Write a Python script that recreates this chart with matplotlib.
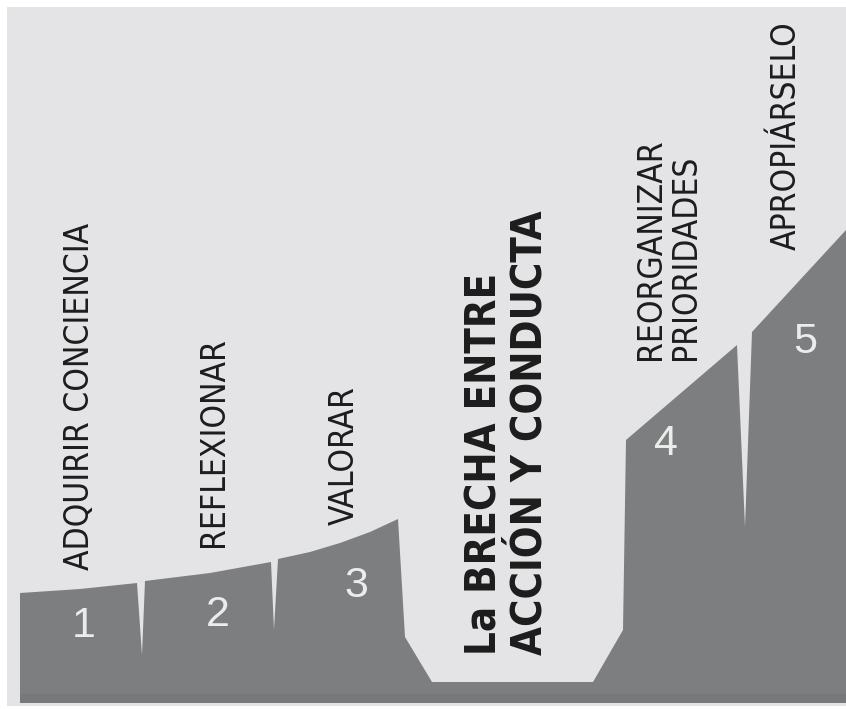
import matplotlib
matplotlib.use("Agg")
import matplotlib.pyplot as plt
from matplotlib import font_manager as fm

# terrain outline (pixel space of the original drawing, y grows downward)
profile_x = [20, 20, 80, 137, 142, 145, 210, 271, 274, 278, 310, 340, 370, 398,
             405, 432, 593, 623, 626, 737, 745, 752, 846, 846]
profile_y = [703, 593, 589, 583, 655, 581, 573, 562, 630, 559, 552, 543, 532, 519,
             637, 682, 682, 630, 440, 345, 527, 332, 230, 703]

steps = ["1", "2", "3", "4", "5"]
step_labels = ["ADQUIRIR CONCIENCIA", "REFLEXIONAR", "VALORAR",
               "REORGANIZAR\nPRIORIDADES", "APROPIÁRSELO"]
gap_label = "La BRECHA ENTRE\nACCIÓN Y CONDUCTA"

W, H = 846, 709
panel_col = "#e4e4e6"
dark_col = "#7d7e7f"
ink = "#1c1c1c"

# pick a condensed face if one is installed
entries = fm.fontManager.ttflist
names = {f.name for f in entries}
if "Liberation Sans Narrow" in names:
    cond_family, cond_stretch = "Liberation Sans Narrow", "normal"
elif any(f.name == "DejaVu Sans" and f.stretch == "condensed" for f in entries):
    cond_family, cond_stretch = "DejaVu Sans", "condensed"
else:
    cond_family, cond_stretch = "Liberation Sans", "normal"
narrow = [cond_family, "DejaVu Sans"]

fig = plt.figure(figsize=(W / 100, H / 100), dpi=100, facecolor="white")
ax = fig.add_axes([0, 0, 1, 1])
ax.set_xlim(0, W)
ax.set_ylim(H, 0)
ax.axis("off")
renderer = fig.canvas.get_renderer()


def fit_size(txt, length, **kw):
    # font size giving the wanted run length (px) for vertical text
    t = ax.text(0, 0, txt, rotation=90, fontsize=20, family=narrow,
                fontstretch=cond_stretch, **kw)
    h = t.get_window_extent(renderer=renderer).height
    t.remove()
    return 20 * length / h


label_size = fit_size(step_labels[0], 347)
gap_size = fit_size("ACCIÓN Y CONDUCTA", 445, fontweight="bold")

# light panel
ax.fill([7, W, W, 7], [7, 7, 706, 706], color=panel_col, lw=0)
# dark terrain
ax.fill(profile_x, profile_y, color=dark_col, lw=0)
ax.fill([20, W, W, 20], [694, 694, 703, 703], color="#777879", lw=0)

# step labels
label_pos = [(80, 570), (214, 547), (344, 525), (668, 360), (786, 250)]
for (x, y), txt in zip(label_pos, step_labels):
    ax.text(x, y, txt, rotation=90, ha="center", va="bottom", color=ink,
            fontsize=label_size, family=narrow, fontstretch=cond_stretch,
            linespacing=1.05, multialignment="left")

ax.text(507, 655, gap_label, rotation=90, ha="center", va="bottom", color=ink,
        fontsize=gap_size, fontweight="bold", family=narrow,
        fontstretch=cond_stretch, linespacing=1.12, multialignment="left")

# step numbers
num_pos = [(84, 626), (218, 615), (356, 586), (666, 444), (805, 342)]
for (x, y), n in zip(num_pos, steps):
    ax.text(x, y, n, ha="center", va="center", color="#ececec",
            fontsize=31, family=["Liberation Sans", "DejaVu Sans"])

fig.savefig("out.png", dpi=100, facecolor="white")
